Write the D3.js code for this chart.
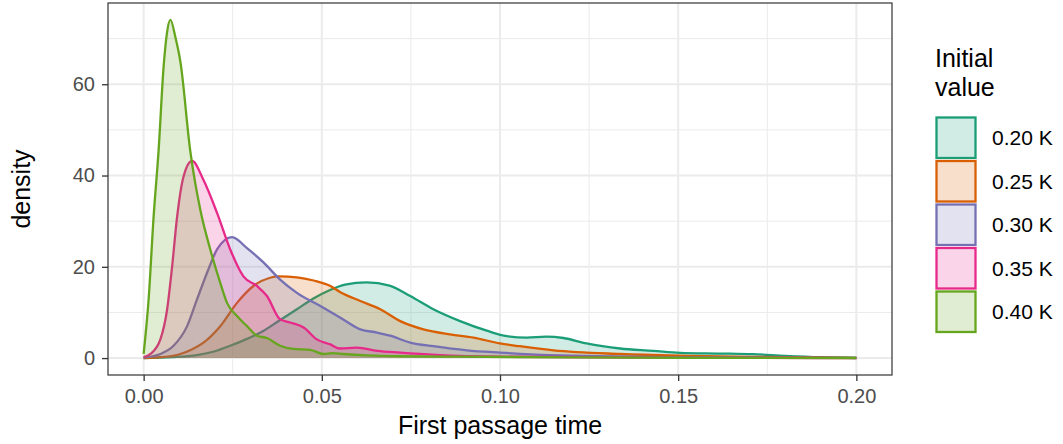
<!DOCTYPE html>
<html lang="en">
<head>
<meta charset="UTF-8">
<title>First passage time density</title>
<script src="https://cdnjs.cloudflare.com/ajax/libs/d3/7.8.5/d3.min.js"></script>
<style>
    body { margin: 0; background: #fff; font-family: "Liberation Sans", Arial, sans-serif; }
    svg { display: block; }
</style>
</head>
<body>
<div id="chart"></div>
<script>
// groups, colours (Dark2) and density curves: [time, density]
const groups = ["0.20 K", "0.25 K", "0.30 K", "0.35 K", "0.40 K"];
const colors = ["#1B9E77", "#D95F02", "#7570B3", "#E7298A", "#66A61E"];

const dens020 = [[0,0],[0.008,0.2],[0.015,0.65],[0.02,1.5],[0.0243,2.7],[0.029,4.2],[0.0337,6],[0.038,8.2],
    [0.043,10.7],[0.0475,13],[0.052,14.8],[0.0565,16.1],[0.0626,16.6],[0.069,15.9],[0.0748,13.6],[0.0813,10.7],
    [0.0888,8.1],[0.0963,6],[0.1019,4.8],[0.1075,4.5],[0.113,4.7],[0.1178,4.4],[0.1243,3.2],[0.1337,2.1],
    [0.143,1.6],[0.1505,1.15],[0.1617,1.0],[0.171,0.85],[0.18,0.5],[0.19,0.2],[0.2,0.05]];
const dens025 = [[0,0],[0.005,0.2],[0.0103,0.9],[0.0135,1.9],[0.0168,3.4],[0.0215,7],[0.0262,12.1],[0.0308,15.8],
    [0.0355,17.6],[0.038,17.9],[0.043,17.7],[0.0477,17.0],[0.0524,15.8],[0.0551,14.5],[0.0608,12.5],[0.0664,10.7],
    [0.072,8.1],[0.0785,6.3],[0.086,5.2],[0.0926,4.5],[0.1,3.2],[0.1056,2.6],[0.115,1.7],[0.1337,0.9],
    [0.1524,0.5],[0.18,0.2],[0.2,0.03]];
const dens030 = [[0,0.1],[0.0047,0.9],[0.0084,2.7],[0.0122,7],[0.015,12.9],[0.0178,18.7],[0.0206,23.8],[0.0248,26.5],
    [0.029,24.1],[0.0337,20.9],[0.0383,17.2],[0.043,14.3],[0.0496,11.4],[0.0551,8.9],[0.0608,6.3],[0.0655,5.6],
    [0.0692,4.9],[0.0748,3.4],[0.0813,2.6],[0.0907,1.7],[0.1,1.2],[0.114,0.65],[0.15,0.2],[0.2,0.02]];
const dens035 = [[0,0.2],[0.0019,0.9],[0.0047,4.1],[0.0066,10.7],[0.008,20.1],[0.0094,31],[0.0112,39.8],[0.0136,43.2],
    [0.0168,39],[0.0206,31.8],[0.0243,23.8],[0.028,17.9],[0.0318,15.8],[0.0346,13.6],[0.0383,8.5],[0.0411,7.8],
    [0.0449,6.7],[0.0486,4.1],[0.0524,3.0],[0.0551,2.1],[0.0598,2.3],[0.0655,1.6],[0.072,1.2],[0.082,0.7],
    [0.1,0.3],[0.15,0.1],[0.2,0.01]];
const dens040 = [[0,0.9],[0.0014,12.9],[0.0028,31],[0.0042,45.5],[0.0056,63.8],[0.0065,71],[0.0075,74.1],[0.009,70],
    [0.0103,65],[0.0131,45.3],[0.0159,32.5],[0.0187,23.8],[0.0215,16.5],[0.0234,12.1],[0.0262,9.2],[0.029,7],
    [0.0318,4.9],[0.0346,4.4],[0.0383,2.7],[0.042,2],[0.0467,1.8],[0.0505,0.9],[0.053,1.1],[0.0561,0.9],
    [0.0626,0.6],[0.072,0.4],[0.09,0.3],[0.12,0.15],[0.2,0.02]];
const curves = [dens020, dens025, dens030, dens035, dens040];

const xTicks = [0, 0.05, 0.10, 0.15, 0.20];
const xMinor = [0.025, 0.075, 0.125, 0.175];
const yTicks = [0, 20, 40, 60];
const yMinor = [10, 30, 50, 70];

const W = 1063, H = 444;
const panel = {left: 108, right: 892, top: 3, bottom: 375};

const svg = d3.select("#chart").append("svg")
    .attr("width", W).attr("height", H);

const x = d3.scaleLinear().domain([-0.01, 0.21]).range([panel.left, panel.right]);
const y = d3.scaleLinear().domain([-3.705, 77.8]).range([panel.bottom, panel.top]);

// grid
const grid = svg.append("g");
grid.selectAll(".xmin").data(xMinor).enter().append("line")
    .attr("x1", d => x(d)).attr("x2", d => x(d))
    .attr("y1", panel.top).attr("y2", panel.bottom)
    .attr("stroke", "#EBEBEB").attr("stroke-width", 1);
grid.selectAll(".ymin").data(yMinor).enter().append("line")
    .attr("y1", d => y(d)).attr("y2", d => y(d))
    .attr("x1", panel.left).attr("x2", panel.right)
    .attr("stroke", "#EBEBEB").attr("stroke-width", 1);
grid.selectAll(".xmaj").data(xTicks).enter().append("line")
    .attr("x1", d => x(d)).attr("x2", d => x(d))
    .attr("y1", panel.top).attr("y2", panel.bottom)
    .attr("stroke", "#EBEBEB").attr("stroke-width", 2);
grid.selectAll(".ymaj").data(yTicks).enter().append("line")
    .attr("y1", d => y(d)).attr("y2", d => y(d))
    .attr("x1", panel.left).attr("x2", panel.right)
    .attr("stroke", "#EBEBEB").attr("stroke-width", 2);

// densities
const area = d3.area().curve(d3.curveMonotoneX)
    .x(d => x(d[0])).y0(y(0)).y1(d => y(d[1]));
const line = d3.line().curve(d3.curveMonotoneX)
    .x(d => x(d[0])).y(d => y(d[1]));

curves.forEach((c, i) => {
    svg.append("path").datum(c)
        .attr("d", area)
        .attr("fill", colors[i]).attr("fill-opacity", 0.2);
    svg.append("path").datum(c)
        .attr("d", line)
        .attr("fill", "none").attr("stroke", colors[i])
        .attr("stroke-width", 2.3).attr("stroke-linejoin", "round");
});

// panel border
svg.append("rect")
    .attr("x", panel.left).attr("y", panel.top)
    .attr("width", panel.right - panel.left).attr("height", panel.bottom - panel.top)
    .attr("fill", "none").attr("stroke", "#333333").attr("stroke-width", 1.2);

// axes
const xAxis = svg.append("g").attr("transform", `translate(0,${panel.bottom})`)
    .call(d3.axisBottom(x).tickValues(xTicks).tickFormat(d3.format(".2f")).tickSize(6).tickPadding(8));
const yAxis = svg.append("g").attr("transform", `translate(${panel.left},0)`)
    .call(d3.axisLeft(y).tickValues(yTicks).tickSize(6).tickPadding(7));
[xAxis, yAxis].forEach(a => {
    a.select(".domain").remove();
    a.selectAll(".tick line").attr("stroke", "#333333").attr("stroke-width", 1.3);
    a.selectAll(".tick text").attr("fill", "#4D4D4D")
        .style("font-size", "20px").style("font-family", "'Liberation Sans', Arial, sans-serif");
});

svg.append("text")
    .attr("x", (panel.left + panel.right) / 2).attr("y", 434)
    .attr("text-anchor", "middle")
    .style("font-size", "25px").attr("fill", "#000")
    .text("First passage time");

svg.append("text")
    .attr("transform", `translate(30,${(panel.top + panel.bottom) / 2}) rotate(-90)`)
    .attr("text-anchor", "middle")
    .style("font-size", "25px").attr("fill", "#000")
    .text("density");

// legend
const leg = svg.append("g").attr("transform", "translate(935,0)");
leg.append("text").attr("x", 0).attr("y", 67).style("font-size", "25px").text("Initial");
leg.append("text").attr("x", 0).attr("y", 96).style("font-size", "25px").text("value");
const keys = leg.selectAll(".key").data(groups).enter().append("g")
    .attr("transform", (d, i) => `translate(0,${116 + i * 43.5})`);
keys.append("rect").attr("width", 42).attr("height", 43.5).attr("fill", "#fff");
keys.append("rect")
    .attr("x", 1.5).attr("y", 1.5).attr("width", 39).attr("height", 40.5)
    .attr("fill", (d, i) => colors[i]).attr("fill-opacity", 0.2)
    .attr("stroke", (d, i) => colors[i]).attr("stroke-width", 2.3);
keys.append("text")
    .attr("x", 57).attr("y", 22).attr("dy", "0.35em")
    .style("font-size", "21px").attr("fill", "#000")
    .text(d => d);
</script>
</body>
</html>
